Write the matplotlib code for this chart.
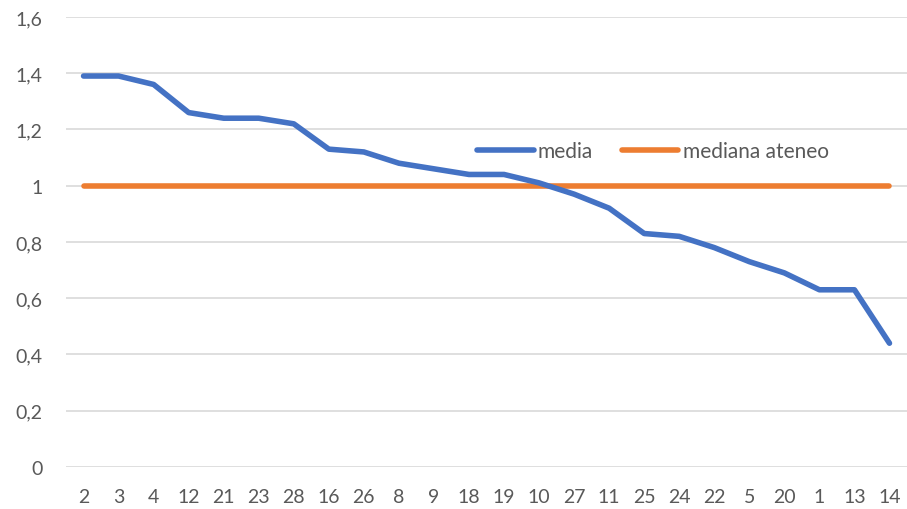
import matplotlib
matplotlib.use('Agg')
import matplotlib.pyplot as plt

# Data
categories = ['2', '3', '4', '12', '21', '23', '28', '16', '26', '8', '9', '18',
              '19', '10', '27', '11', '25', '24', '22', '5', '20', '1', '13', '14']
media = [1.39, 1.39, 1.36, 1.26, 1.24, 1.24, 1.22, 1.13, 1.12, 1.08, 1.06, 1.04,
         1.04, 1.01, 0.97, 0.92, 0.83, 0.82, 0.78, 0.73, 0.69, 0.63, 0.63, 0.44]
mediana_ateneo = [1.0] * len(categories)
y_ticks = [0, 0.2, 0.4, 0.6, 0.8, 1.0, 1.2, 1.4, 1.6]

plt.rcParams['font.family'] = ['Lato', 'DejaVu Sans']

fig = plt.figure(figsize=(9.07, 5.10), dpi=100)
ax = fig.add_axes([0.0728, 0.0824, 0.9272, 0.8824])

x = range(len(categories))
ax.plot(x, media, color='#4472C4', linewidth=4.0, solid_capstyle='round',
        solid_joinstyle='round', label='media', zorder=3)
ax.plot(x, mediana_ateneo, color='#ED7D31', linewidth=4.0, solid_capstyle='round',
        label='mediana ateneo', zorder=2)

ax.set_xlim(-0.5, len(categories) - 0.5)
ax.set_ylim(0, 1.6)
ax.set_xticks(list(x))
ax.set_xticklabels(categories)
ax.set_yticks(y_ticks)
ax.set_yticklabels([('%g' % v).replace('.', ',') for v in y_ticks])

ax.grid(axis='y', color='#D9D9D9', linewidth=1.2)
ax.set_axisbelow(True)
for s in ax.spines.values():
    s.set_visible(False)
ax.tick_params(axis='both', length=0, labelsize=14, colors='#595959')
ax.tick_params(axis='x', pad=15)
ax.tick_params(axis='y', pad=17)

fig.legend(loc='center', bbox_to_anchor=(0.720, 0.702), ncol=2, frameon=False,
           fontsize=15, labelcolor='#595959', handlelength=2.7,
           handletextpad=0.2, columnspacing=1.4)

plt.savefig('out.png', dpi=100)
plt.close()
